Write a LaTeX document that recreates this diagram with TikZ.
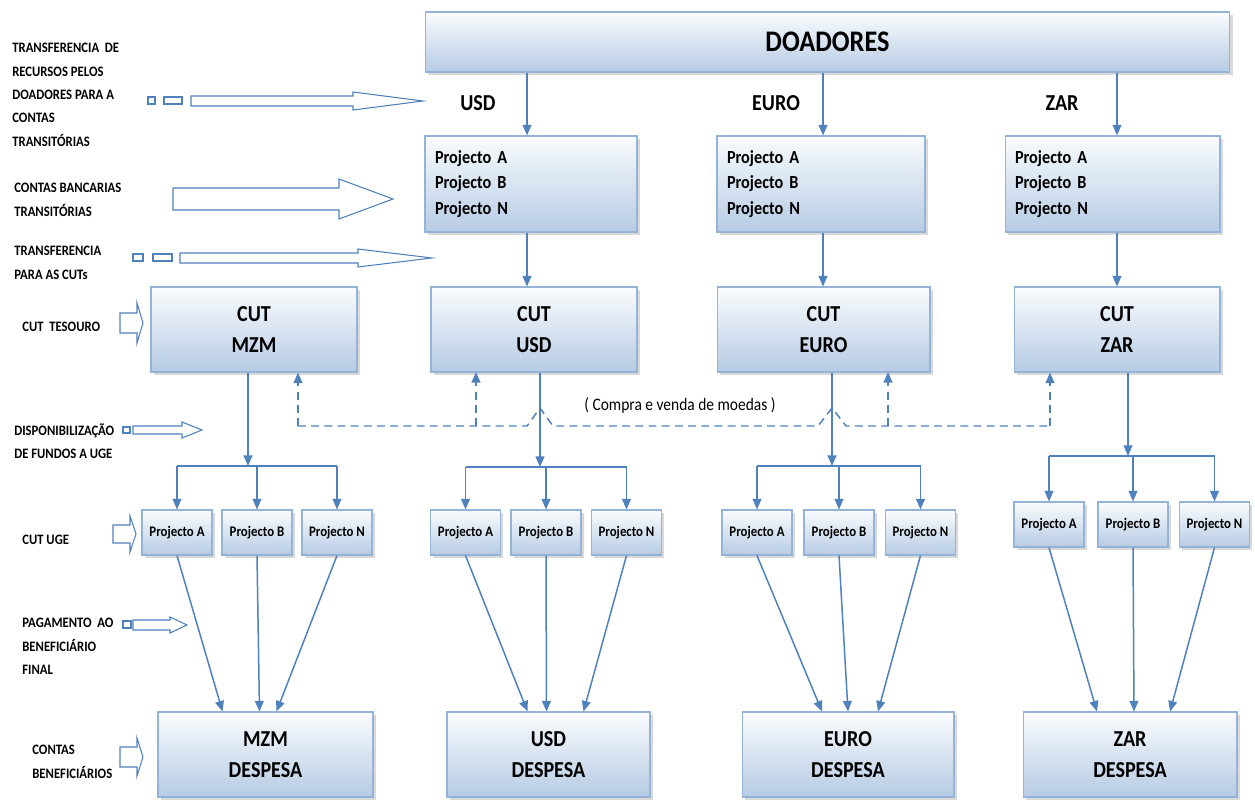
\documentclass[tikz,border=0pt]{standalone}
\usepackage{fontspec}
\setmainfont{Carlito}[FakeStretch=0.88]
\usetikzlibrary{arrows.meta,shadows,calc}
\definecolor{flowblue}{HTML}{4F81BD}
\definecolor{boxline}{HTML}{95B3D7}
\definecolor{boxtop}{HTML}{FAFCFE}
\definecolor{boxbot}{HTML}{B6CBE4}
% block arrow: start x, head base x, centre y, half shaft, half head, tip x
\newcommand{\blockarrow}[6]{%
  \draw[barrow] (#1,#3-#4) -- (#2,#3-#4) -- (#2,#3-#5) -- (#6,#3)
    -- (#2,#3+#5) -- (#2,#3+#4) -- (#1,#3+#4) -- cycle;}

\begin{document}
\begin{tikzpicture}[x=0.02cm,y=-0.02cm,
  box/.style={draw=boxline,line width=0.6pt,top color=boxtop,bottom color=boxbot,
    drop shadow={shadow xshift=1.6pt,shadow yshift=-1.6pt,opacity=0.3},inner sep=0pt},
  bigbox/.style={box,align=center,font=\bfseries\fontsize{13}{18}\selectfont},
  listbox/.style={box,minimum height=1.92cm,align=left,
    font=\bfseries\fontsize{10.5}{14.7}\selectfont},
  smallbox/.style={box,minimum width=1.4cm,minimum height=0.9cm,
    font=\bfseries\fontsize{8.3}{10}\selectfont},
  flow/.style={draw=flowblue,line width=0.85pt,-{Triangle[width=5pt,length=6pt]}},
  conn/.style={draw=flowblue,line width=0.85pt},
  dflow/.style={flow,dash pattern=on 4.5pt off 3pt},
  barrow/.style={draw=flowblue,line width=0.6pt,fill=white},
  lbl/.style={anchor=north west,align=left,inner sep=0pt,
    font=\bfseries\fontsize{8.2}{13.3}\selectfont},
  cur/.style={font=\bfseries\fontsize{13}{15}\selectfont}]
  \useasboundingbox (0,0) rectangle (1255,800);

  %donors and transit accounts
  \node[bigbox,minimum width=16.1cm,minimum height=1.2cm,
    font=\bfseries\fontsize{17}{20}\selectfont] (doa) at (827.5,42) {DOADORES};
  \node[listbox,minimum width=4.24cm,text width=3.84cm] (tusd) at (531,184)
    {Projecto A\\Projecto B\\Projecto N};
  \node[listbox,minimum width=4.16cm,text width=3.76cm] (teuro) at (821,184)
    {Projecto A\\Projecto B\\Projecto N};
  \node[listbox,minimum width=4.3cm,text width=3.9cm] (tzar) at (1112.5,184)
    {Projecto A\\Projecto B\\Projecto N};
  \node[cur] (lusd) at (478,103) {USD};
  \node[cur] (leuro) at (776,103) {EURO};
  \node[cur] (lzar) at (1062,103) {ZAR};

  %single treasury accounts
  \node[bigbox,minimum width=4.12cm,minimum height=1.7cm] (cmzm) at (254,329.5) {CUT\\MZM};
  \node[bigbox,minimum width=4.12cm,minimum height=1.7cm] (cusd) at (534,329.5) {CUT\\USD};
  \node[bigbox,minimum width=4.26cm,minimum height=1.7cm] (ceuro) at (823.5,329.5) {CUT\\EURO};
  \node[bigbox,minimum width=4.12cm,minimum height=1.7cm] (czar) at (1117,329.5) {CUT\\ZAR};

  %UGE accounts
  \foreach \g/\xa/\xb/\xn/\yy in {mzm/177/257/337/532.5, usd/465.5/546/626.5/532.5,
      euro/757/839/920.5/532.5, zar/1049/1133/1214.5/524.5} {
    \node[smallbox] (\g-a) at (\xa,\yy) {Projecto A};
    \node[smallbox] (\g-b) at (\xb,\yy) {Projecto B};
    \node[smallbox] (\g-n) at (\xn,\yy) {Projecto N};
  }

  %expense accounts
  \node[bigbox,minimum width=4.3cm,minimum height=1.7cm] (mzm-exp) at (265.5,754.5) {MZM\\DESPESA};
  \node[bigbox,minimum width=4.06cm,minimum height=1.7cm] (usd-exp) at (548.5,754.5) {USD\\DESPESA};
  \node[bigbox,minimum width=4.24cm,minimum height=1.7cm] (euro-exp) at (848,754.5) {EURO\\DESPESA};
  \node[bigbox,minimum width=4.28cm,minimum height=1.7cm] (zar-exp) at (1130,754.5) {ZAR\\DESPESA};

  %donors -> transit -> CUT
  \draw[flow] (doa.south -| 527,0) -- (tusd.north -| 527,0);
  \draw[flow] (doa.south -| 823,0) -- (teuro.north -| 823,0);
  \draw[flow] (doa.south -| 1117,0) -- (tzar.north -| 1117,0);
  \draw[flow] (tusd.south -| 527,0) -- (cusd.north -| 527,0);
  \draw[flow] (teuro.south -| 823,0) -- (ceuro.north -| 823,0);
  \draw[flow] (tzar.south -| 1117,0) -- (czar.north -| 1117,0);

  %CUT -> UGE
  \coordinate (mzm-j) at (248,466);
  \coordinate (usd-j) at (540,467);
  \coordinate (euro-j) at (832,466);
  \coordinate (zar-j) at (1128,456);
  \draw[flow] (cmzm.south -| mzm-j) -- (mzm-j);
  \draw[flow] (cusd.south -| usd-j) -- (usd-j);
  \draw[flow] (ceuro.south -| euro-j) -- (euro-j);
  \draw[flow] (czar.south -| zar-j) -- (zar-j);
  \foreach \g in {mzm,usd,euro,zar} {
    \draw[conn] (\g-a.north |- \g-j) -- (\g-n.north |- \g-j);
    \foreach \p in {a,b,n}
      \draw[flow] (\g-\p.north |- \g-j) -- (\g-\p.north);
  }

  %UGE -> expenses
  \foreach \g/\ea/\eb/\en in {mzm/-43/-6/11, usd/-21/-2/35, euro/-26/0/30, zar/-33/4/40} {
    \draw[flow] (\g-a.south) -- ($(\g-exp.north)+(\ea,0)$);
    \draw[flow] (\g-b.south) -- ($(\g-exp.north)+(\eb,0)$);
    \draw[flow] (\g-n.south) -- ($(\g-exp.north)+(\en,0)$);
  }

  %currency exchange
  \coordinate (dl) at (298,426);
  \coordinate (dr) at (1050,426);
  \draw[conn,dash pattern=on 4.5pt off 3pt] (dl) -- (527,426) -- (540,408) -- (553,426)
    -- (818,426) -- (832,408) -- (846,426) -- (dr);
  \draw[dflow] (dl) -- (dl |- cmzm.south);
  \draw[dflow] (476,426) -- (476,372);
  \draw[dflow] (888,426) -- (888,372);
  \draw[dflow] (dr) -- (dr |- czar.south);
  \node[font=\fontsize{10}{12}\selectfont] (cv) at (680,405) {( Compra e venda de moedas )};

  %left legend
  \node[lbl] (t1) at (12,43) {TRANSFERENCIA\ \ DE\\RECURSOS PELOS\\DOADORES PARA A\\CONTAS\\TRANSITÓRIAS};
  \node[lbl] (t2) at (14,183) {CONTAS BANCARIAS\\TRANSITÓRIAS};
  \node[lbl] (t3) at (14,246) {TRANSFERENCIA\\PARA AS CUTs};
  \node[lbl] (t4) at (22,322) {CUT\ \ TESOURO};
  \node[lbl] (t5) at (14,423) {DISPONIBILIZAÇÃO\\DE FUNDOS A UGE};
  \node[lbl] (t6) at (22,535) {CUT UGE};
  \node[lbl] (t7) at (22,618) {PAGAMENTO\ \ AO\\BENEFICIÁRIO\\FINAL};
  \node[lbl] (t8) at (32,745) {CONTAS\\BENEFICIÁRIOS};

  \draw[barrow] (148,97) rectangle (155,104);
  \draw[barrow] (164,97) rectangle (182,104);
  \blockarrow{191}{353}{101}{5}{9}{423}
  \blockarrow{173}{339}{199}{11}{20}{393}
  \draw[barrow] (133,254) rectangle (143,261);
  \draw[barrow] (153,254) rectangle (172,261);
  \blockarrow{180}{358}{258}{5}{9}{432}
  \blockarrow{120}{137}{323}{10}{20}{143}
  \draw[barrow] (123,427) rectangle (130,433);
  \blockarrow{133}{182}{430}{4}{8}{202}
  \blockarrow{113}{130}{534}{9}{18}{136}
  \draw[barrow] (123,621) rectangle (131,628);
  \blockarrow{133}{170}{625}{5}{8}{187}
  \blockarrow{120}{137}{757}{10}{19}{143}
\end{tikzpicture}
\end{document}
